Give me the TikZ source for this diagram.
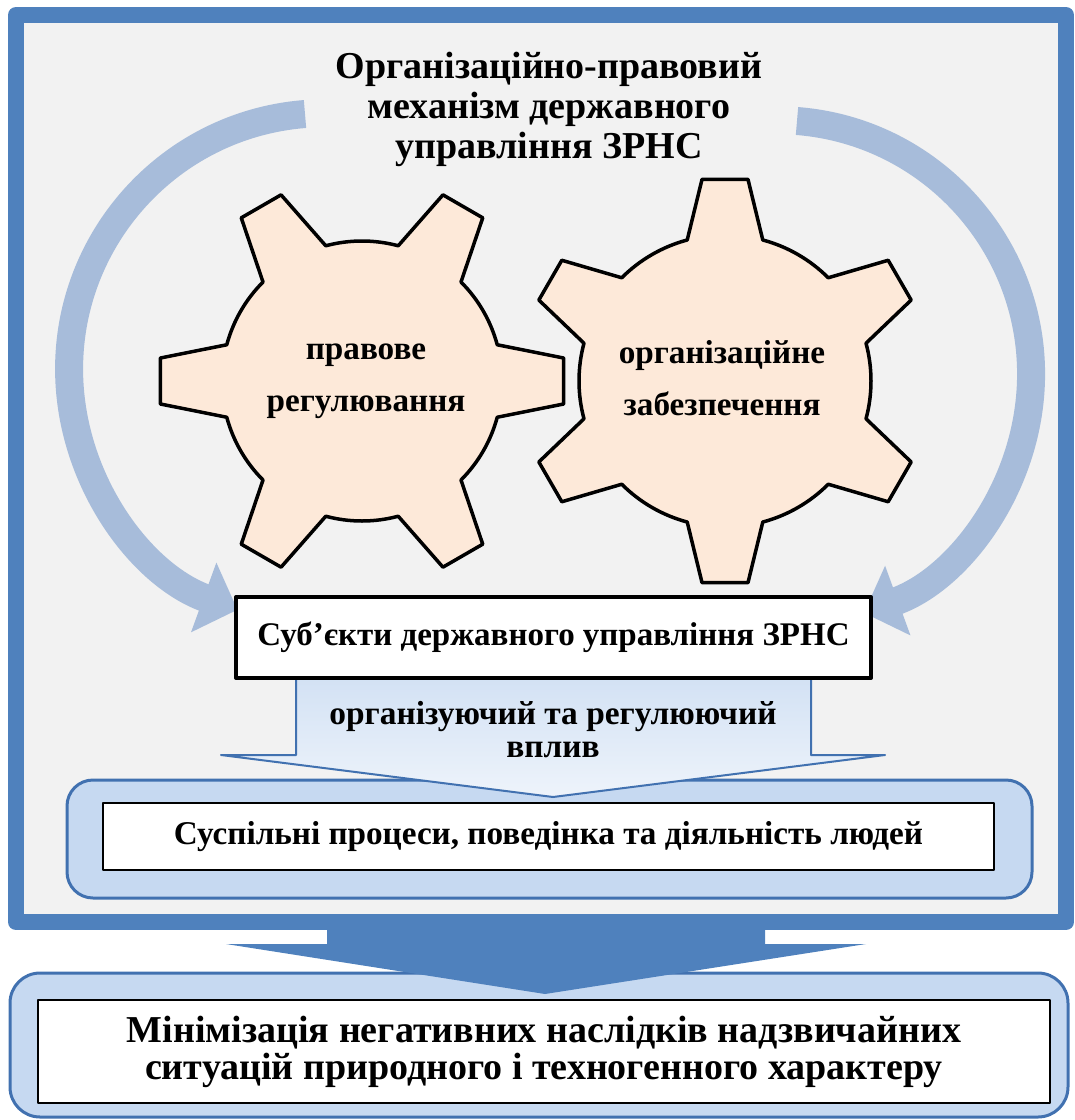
\documentclass[tikz,border=0pt]{standalone}
\usepackage{fontspec}
\setmainfont{Liberation Serif}
\usetikzlibrary{arrows.meta}
\definecolor{frameblue}{RGB}{79,129,189}
\definecolor{framegray}{RGB}{242,242,242}
\definecolor{arcblue}{RGB}{167,188,218}
\definecolor{gearfill}{RGB}{253,233,217}
\definecolor{paleblue}{RGB}{198,217,241}
\definecolor{edgeblue}{RGB}{65,113,176}
\begin{document}
\begin{tikzpicture}[
	x=0.5pt,
	y=-0.5pt,
	line join=round,
	>={Triangle[length=18pt,width=36pt]},
	arcband/.style={arcblue, line width=14pt},
	gear/.style={draw=black, line width=1.75pt, fill=gearfill},
	boldtext/.style={font=\bfseries\fontsize{19}{20}\selectfont, align=center, inner sep=0pt},
	roundbox/.style={draw=edgeblue, line width=1.5pt, fill=paleblue, rounded corners=13pt},
	whitebox/.style={draw=black, line width=0.8pt, fill=white, inner sep=0pt},
	]
\useasboundingbox (0,0) rectangle (1075,1120);
\draw[frameblue, line width=8pt, fill=framegray] (16,15) rectangle (1066,922);
\draw[arcband,->] (305,114) arc[start angle=265.5, end angle=110, radius=256];
\draw[arcband,->] (797,121) arc[start angle=274.5, end angle=430, radius=254];
\foreach \cx/\cy/\off/\rb in {362/381/0/140, 725/381/30/146}
	\draw[gear, shift={(\cx,\cy)}] ({\off-15}:\rb)
		\foreach \i in {0,...,5} {
		-- ({\off+60*\i-6.5}:203) -- ({\off+60*\i+6.5}:203) -- ({\off+60*\i+15}:\rb)
		arc[start angle={\off+60*\i+15}, end angle={\off+60*\i+45}, radius=\rb]
		} -- cycle;
\node[boldtext] (title) at (549,109) {Організаційно-правовий\\механізм державного\\управління ЗРНС};
\node[boldtext, font=\bfseries\fontsize{16.6}{26}\selectfont] (legal) at (366,381) {правове\\регулювання};
\node[boldtext, font=\bfseries\fontsize{16.6}{26}\selectfont] (organ) at (722,378) {організаційне\\забезпечення};
\draw[roundbox] (67,780) rectangle (1032,898);
\draw[draw=edgeblue, line width=1pt, top color=paleblue!80, bottom color=paleblue!30] (296,672) -- (296,755) -- (221,755) -- (553,797) -- (885,755) -- (811,755) -- (811,672) -- cycle;
\node[whitebox, line width=2pt, minimum width=317.5pt, minimum height=40.5pt, font=\bfseries\fontsize{16.5}{20}\selectfont] (subjects) at (553.5,637.5) {Суб’єкти державного управління ЗРНС};
\node[boldtext, font=\bfseries\fontsize{16.7}{16.5}\selectfont] (influence) at (553,730) {організуючий та регулюючий\\вплив};
\node[whitebox, minimum width=445.5pt, minimum height=33.5pt, font=\bfseries\fontsize{16.6}{20}\selectfont] (society) at (548.5,836.5) {Суспільні процеси, поведінка та діяльність людей};
\draw[roundbox, rounded corners=15pt] (10,973) rectangle (1068,1117);
\fill[frameblue] (327,920) -- (327,944) -- (226,944) -- (545,994) -- (866,944) -- (765,944) -- (765,920) -- cycle;
\node[whitebox, minimum width=506pt, minimum height=51.5pt, align=center, font=\bfseries\fontsize{19}{18.5}\selectfont] (result) at (544,1051.5) {Мінімізація негативних наслідків надзвичайних\\ситуацій природного і техногенного характеру};
\end{tikzpicture}
\end{document}
